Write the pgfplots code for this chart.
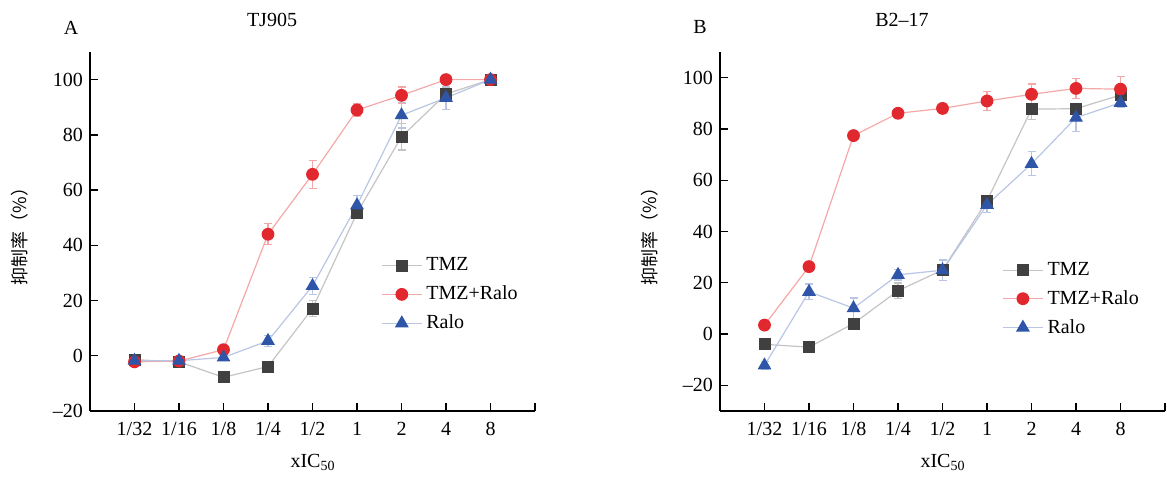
\documentclass[border=0pt]{standalone}
\usepackage{fontspec}
\setmainfont{Liberation Serif}
\newfontfamily\serifA{Liberation Serif}
\newfontfamily\cjk{Noto Sans CJK SC}
\usepackage{pgfplots}
\pgfplotsset{compat=1.18}
\definecolor{tmzm}{HTML}{404040}
\definecolor{tmzl}{HTML}{C4C4C4}
\definecolor{combm}{HTML}{E0282E}
\definecolor{combl}{HTML}{F4A8A8}
\definecolor{ralom}{HTML}{2F55A8}
\definecolor{ralol}{HTML}{B8C6E4}
\newcommand{\fs}{\serifA\fontsize{10}{12}\selectfont}
\pgfplotsset{
  myaxis/.style={
    scale only axis, width=222.5pt, height=179.5pt,
    axis lines=left, axis line style={-, black, line width=0.7pt},
    tick align=inside, major tick length=4pt,
    tick style={black, line width=0.7pt},
    xmin=-1, xmax=9,
    xtick={0,...,8},
    xticklabels={1/32,1/16,1/8,1/4,1/2,1,2,4,8},
    extra x ticks={9}, extra x tick labels={},
    ytick={-20,0,20,40,60,80,100},
    yticklabels={–20,0,20,40,60,80,100},
    ymax=110,
    /pgf/number format/assume math mode=true,
    tick label style={font=\fs},
    xticklabel style={yshift=-2pt},
    legend style={draw=none, fill=none, font=\fs, row sep=2pt,
      /tikz/every even column/.append style={column sep=2pt}},
    legend cell align=left,
    legend image code/.code={\draw[mark repeat=2,mark phase=2,##1] plot coordinates {(0pt,0pt) (10pt,0pt) (20pt,0pt)};},
    error bars/y dir=both, error bars/y explicit,
  },
  tmz/.style={color=tmzl, line width=0.6pt, mark=square*, mark size=2.7pt,
    mark options={fill=tmzm, draw=tmzm},
    error bars/error bar style={tmzl, line width=0.6pt},
    error bars/error mark options={rotate=90, mark size=2pt, tmzl, line width=0.6pt}},
  comb/.style={color=combl, line width=0.6pt, mark=*, mark size=2.9pt,
    mark options={fill=combm, draw=combm},
    error bars/error bar style={combl, line width=0.6pt},
    error bars/error mark options={rotate=90, mark size=2pt, combl, line width=0.6pt}},
  ralo/.style={color=ralol, line width=0.6pt, mark=triangle*, mark size=3.4pt,
    mark options={fill=ralom, draw=ralom},
    error bars/error bar style={ralol, line width=0.6pt},
    error bars/error mark options={rotate=90, mark size=2pt, ralol, line width=0.6pt}},
}
\begin{document}
\begin{tikzpicture}[font=\fs]
\useasboundingbox (0pt,0pt) rectangle (583.5pt,241pt);
% Panel A
\begin{axis}[myaxis, at={(45pt,35.5pt)}, anchor=south west, ymin=-20,
  legend style={at={(rel axis cs:0.64,0.45)}, anchor=north west}]
\addplot[tmz] coordinates {(0,-1.4) +- (0,1) (1,-2.2) +- (0,1) (2,-7.8) +- (0,2) (3,-3.9) +- (0,1) (4,17.1) +- (0,3) (5,51.7) +- (0,1.5) (6,79.3) +- (0,4.8) (7,94.8) +- (0,2.5) (8,100) +- (0,0.5)};
\addplot[comb] coordinates {(0,-2.2) +- (0,1) (1,-1.9) +- (0,0.5) (2,2.2) +- (0,1) (3,44) +- (0,3.8) (4,65.7) +- (0,5) (5,89) +- (0,2.2) (6,94.3) +- (0,3) (7,100) +- (0,0.5) (8,100) +- (0,0.5)};
\addplot[ralo] coordinates {(0,-1.8) +- (0,1) (1,-1.8) +- (0,0.5) (2,-0.6) +- (0,1) (3,5.4) +- (0,2) (4,25.3) +- (0,3) (5,54.5) +- (0,3.5) (6,87.1) +- (0,4.6) (7,93.4) +- (0,4.2) (8,100) +- (0,0.5)};
\legend{TMZ, TMZ+Ralo, Ralo}
\end{axis}
% Panel B
\begin{axis}[myaxis, at={(360pt,35.5pt)}, anchor=south west, ymin=-30,
  legend style={at={(rel axis cs:0.62,0.438)}, anchor=north west}]
\addplot[tmz] coordinates {(0,-4.0) +- (0,1.5) (1,-5.1) +- (0,1) (2,4.1) +- (0,1) (3,16.9) +- (0,3) (4,25.0) +- (0,4) (5,52.0) +- (0,1.5) (6,87.7) +- (0,4) (7,87.9) +- (0,2) (8,93.2) +- (0,1)};
\addplot[comb] coordinates {(0,3.5) +- (0,1) (1,26.3) +- (0,1) (2,77.4) +- (0,1.5) (3,86.1) +- (0,1.5) (4,88.0) +- (0,2) (5,90.9) +- (0,3.7) (6,93.5) +- (0,4) (7,95.8) +- (0,4) (8,95.5) +- (0,5)};
\addplot[ralo] coordinates {(0,-12.2) +- (0,1.5) (1,16.5) +- (0,3) (2,10.1) +- (0,4) (3,23.1) +- (0,2) (4,24.9) +- (0,4) (5,50.4) +- (0,3) (6,66.4) +- (0,4.7) (7,84.4) +- (0,5.5) (8,90.2) +- (0,2)};
\legend{TMZ, TMZ+Ralo, Ralo}
\end{axis}
% labels
\node at (35.5pt,227pt) {A};
\node at (136pt,231pt) {TJ905};
\node at (156.5pt,10pt) {xIC\textsubscript{50}};
\node[rotate=90] at (10pt,125pt) {\cjk\fontsize{9}{11}\selectfont 抑制率（\%）};
\node at (350pt,227.5pt) {B};
\node at (451pt,231pt) {B2–17};
\node at (471.5pt,10pt) {xIC\textsubscript{50}};
\node[rotate=90] at (325pt,125pt) {\cjk\fontsize{9}{11}\selectfont 抑制率（\%）};
\end{tikzpicture}
\end{document}
